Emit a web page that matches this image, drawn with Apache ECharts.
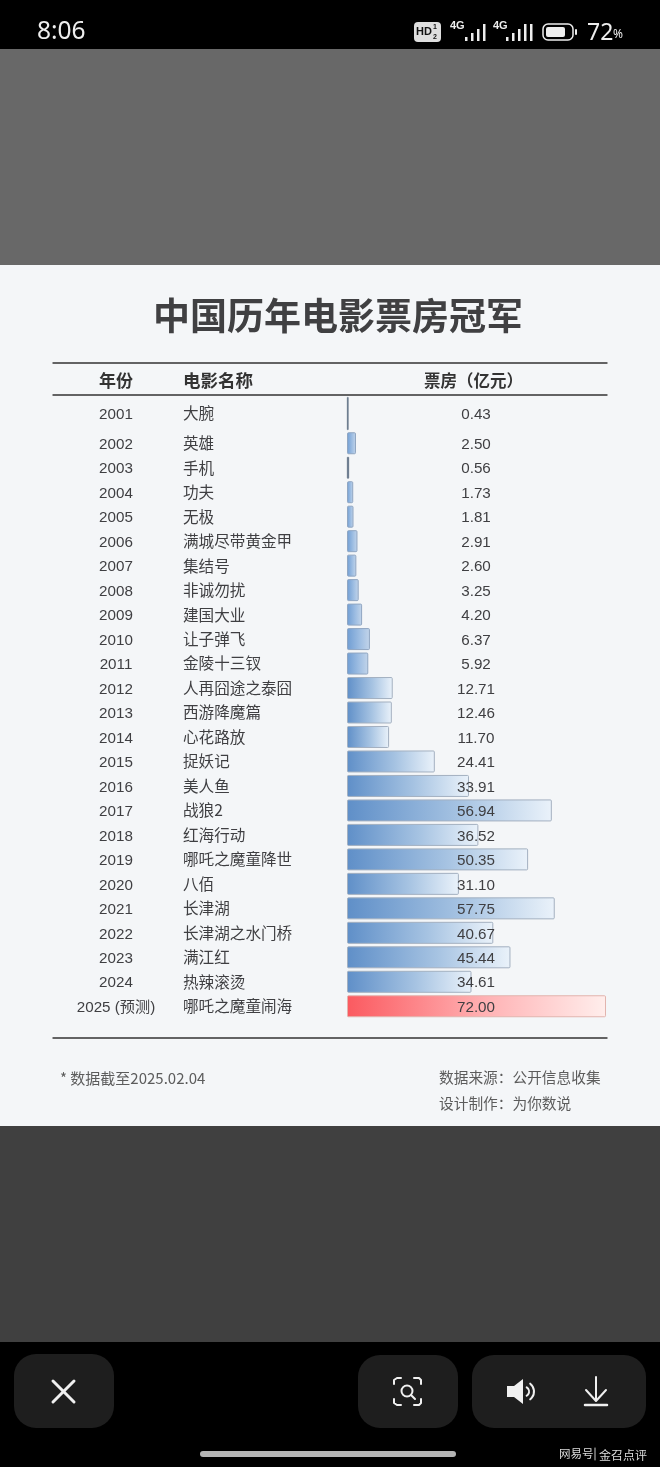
<!DOCTYPE html>
<html><head><meta charset="utf-8">
<style>html,body{margin:0;padding:0;background:#000}#c{width:660px;height:1467px}</style>
<script src="https://cdn.jsdelivr.net/npm/echarts@6/dist/echarts.min.js"></script>
</head><body><div id="c"></div>
<script>
var titleText = '中国历年电影票房冠军';
var headers = ['年份', '电影名称', '票房（亿元）'];
var years = ['2001','2002','2003','2004','2005','2006','2007','2008','2009','2010','2011','2012','2013','2014','2015','2016','2017','2018','2019','2020','2021','2022','2023','2024','2025 (预测)'];
var movies = ['大腕','英雄','手机','功夫','无极','满城尽带黄金甲','集结号','非诚勿扰','建国大业','让子弹飞','金陵十三钗','人再囧途之泰囧','西游降魔篇','心花路放','捉妖记','美人鱼','战狼2','红海行动','哪吒之魔童降世','八佰','长津湖','长津湖之水门桥','满江红','热辣滚烫','哪吒之魔童闹海'];
var boxOffice = [0.43,2.50,0.56,1.73,1.81,2.91,2.60,3.25,4.20,6.37,5.92,12.71,12.46,11.70,24.41,33.91,56.94,36.52,50.35,31.10,57.75,40.67,45.44,34.61,72.00];
var noteLeft = '* 数据截至2025.02.04';
var noteRight = ['数据来源：公开信息收集', '设计制作：为你数说'];

var LAT = '"Liberation Sans", Arial, "Noto Sans CJK SC", sans-serif';
var CJK = '"Noto Sans CJK SC", sans-serif';
var INK = '#3f3f42';

function grad(a, b, c) {
  return new echarts.graphic.LinearGradient(0, 0, 1, 0, [
    {offset: 0, color: a}, {offset: 0.55, color: b}, {offset: 1, color: c}
  ]);
}
function barItem(v, i) {
  var last = i === years.length - 1;
  var fill, edge = '#a3b0c0', w = 1;
  if (last) { fill = grad('#fb5a60', '#ffb4b6', '#ffeeec'); edge = '#e2b4ae'; }
  else if (v < 1) { fill = '#5a6c80'; edge = '#5a6c80'; w = 0.4; }
  else if (v < 10) { fill = grad('#6f9dd3', '#9dbde2', '#c3d5ea'); edge = '#90a6c2'; }
  else fill = grad('#5f8fc8', '#a6c3e2', '#eaf2fa');
  return { value: v, itemStyle: { color: fill, borderColor: edge, borderWidth: w, borderRadius: 1 } };
}
var allBars = boxOffice.map(barItem);

function yAxesFor(g, from, to) {
  var ys = years.slice(from, to), ms = movies.slice(from, to), vs = boxOffice.slice(from, to).map(function (v) { return v.toFixed(2); });
  function base(data, pos, extra) {
    return {
      type: 'category', gridIndex: g, inverse: true, position: pos, data: data, z: 20,
      axisLine: {show: false}, axisTick: {show: false}, splitLine: {show: false},
      axisLabel: Object.assign({interval: 0, color: INK, fontSize: 15.2, fontFamily: LAT, hideOverlap: false, verticalAlign: 'top', lineHeight: 3}, extra)
    };
  }
  return [
    base(ys, 'left', {align: 'center', margin: 231}),
    base(ms, 'left', {align: 'left', margin: 164, fontSize: 15.6, fontFamily: CJK, verticalAlign: 'middle', lineHeight: 18}),
    base(vs, 'right', {align: 'center', margin: -130})
  ];
}

/* ----- surrounding screen furniture ----- */
function rect(x, y, w, h, fill, r, z) { return {type: 'rect', z: z === undefined ? -5 : z, silent: true, shape: {x: x, y: y, width: w, height: h, r: r || 0}, style: {fill: fill}}; }
function txt(x, y, s, size, color, o) {
  o = o || {};
  return {type: 'text', z: 5, silent: true, x: x, y: y, style: {text: s, fill: color, font: (o.w || 'normal') + ' ' + size + 'px ' + (o.f || CJK), textAlign: o.a || 'left', textVerticalAlign: 'middle'}};
}
function ln(x1, y1, x2, y2, c, w) { return {type: 'line', z: 5, silent: true, shape: {x1: x1, y1: y1, x2: x2, y2: y2}, style: {stroke: c, lineWidth: w, lineCap: 'round'}}; }
function pl(pts, c, w) { return {type: 'polyline', z: 5, silent: true, shape: {points: pts}, style: {stroke: c, lineWidth: w, fill: 'none', lineCap: 'round', lineJoin: 'round'}}; }
function arc(cx, cy, r, a, b, c, w) { return {type: 'arc', z: 5, silent: true, shape: {cx: cx, cy: cy, r: r, startAngle: a, endAngle: b}, style: {stroke: c, lineWidth: w, fill: 'none', lineCap: 'round'}}; }

var W = '#f0f0f0';
var gfx = [
  rect(0, 0, 660, 1467, '#000'),
  {type: 'rect', z: -4, silent: true, shape: {x: 0, y: 49, width: 660, height: 216}, style: {fill: '#686868'}},
  {type: 'rect', z: -4, silent: true, shape: {x: 0, y: 1126, width: 660, height: 216}, style: {fill: '#404040'}},
  rect(0, 265, 660, 861, '#f4f6f8', 0, -3),
  // table rules
  ln(53, 363, 607, 363, '#333', 1.4), ln(53, 395, 607, 395, '#333', 1.4), ln(53, 1038, 607, 1038, '#333', 1.4),
  // table headers
  txt(116, 381, headers[0], 17, '#333', {w: 'bold', a: 'center'}),
  txt(183, 380.5, headers[1], 17.5, '#333', {w: 'bold'}),
  txt(424, 381, headers[2], 16.5, '#333', {w: 'bold'}),
  // footer
  txt(60, 1078, noteLeft, 15, '#5c5c5c'),
  txt(439, 1077, noteRight[0], 14.7, '#5c5c5c'),
  txt(439, 1103, noteRight[1], 14.7, '#5c5c5c'),
  // status bar
  txt(37, 32, '8:06', 24.5, '#eeeeee', {f: '"Noto Sans", sans-serif'}),
  rect(414, 22, 27, 20, '#dedede', 4, 5),
  txt(416, 32, 'HD', 11, '#111', {w: 'bold', f: LAT}),
  txt(433, 27, '1', 7, '#111', {w: 'bold', f: LAT}),
  txt(433, 37, '2', 7, '#111', {w: 'bold', f: LAT}),
  txt(450, 26, '4G', 11, '#eee', {w: 'bold', f: LAT}),
  txt(493, 26, '4G', 11, '#eee', {w: 'bold', f: LAT}),
  rect(465, 37, 2.5, 4, '#eee', 0, 5), rect(471, 33, 2.5, 8, '#eee', 0, 5), rect(477, 29, 2.5, 12, '#eee', 0, 5), rect(483, 24, 2.5, 17, '#eee', 0, 5),
  rect(506, 37, 2.5, 4, '#eee', 0, 5), rect(512, 33, 2.5, 8, '#eee', 0, 5), rect(518, 29, 2.5, 12, '#eee', 0, 5), rect(524, 24, 2.5, 17, '#eee', 0, 5), rect(530, 24, 2.5, 17, '#eee', 0, 5),
  {type: 'rect', z: 5, silent: true, shape: {x: 543, y: 24, width: 30, height: 16, r: 5}, style: {fill: 'none', stroke: '#eee', lineWidth: 1.5}},
  rect(546, 27, 19, 10, '#eee', 2, 5),
  rect(575, 29, 2, 6, '#eee', 1, 5),
  txt(587, 33, '72', 23, '#eeeeee', {f: '"Noto Sans", sans-serif'}),
  txt(613, 35, '%', 12, '#eeeeee', {f: '"Noto Sans", sans-serif'}),
  // bottom bar
  rect(14, 1354, 100, 74, '#1e1e1e', 22, 1),
  rect(358, 1355, 100, 73, '#1e1e1e', 22, 1),
  rect(472, 1355, 174, 73, '#1e1e1e', 22, 1),
  ln(53, 1381, 74, 1402, W, 3), ln(74, 1381, 53, 1402, W, 3),
  pl([[394,1384],[394,1380],[397,1378],[401,1378]], W, 2),
  pl([[414,1378],[419,1378],[421,1380],[421,1384]], W, 2),
  pl([[421,1399],[421,1403],[419,1405],[414,1405]], W, 2),
  pl([[401,1405],[397,1405],[394,1403],[394,1399]], W, 2),
  {type: 'circle', z: 5, silent: true, shape: {cx: 407, cy: 1391, r: 5.5}, style: {fill: 'none', stroke: W, lineWidth: 2}},
  ln(411, 1395, 415, 1399, W, 2),
  {type: 'polygon', z: 5, silent: true, shape: {points: [[507,1386],[514,1386],[523,1379],[523,1404],[514,1397],[507,1397]]}, style: {fill: W}},
  arc(524, 1391.5, 5, -1, 1, W, 2),
  arc(524, 1391.5, 10, -0.9, 0.9, W, 2),
  ln(596, 1377, 596, 1400, W, 2), pl([[586,1390],[596,1401],[606,1390]], W, 2), ln(585, 1405, 607, 1405, W, 2.5),
  rect(200, 1451, 256, 6, '#b4b4b4', 3, 1),
  txt(559, 1454, '网易号', 11.5, '#dddddd'),
  ln(595, 1448, 595, 1460, '#cccccc', 1),
  txt(599, 1455, '金召点评', 12, '#dddddd')
];

var option = {
  animation: false,
  backgroundColor: 'transparent',
  title: {
    text: titleText, left: 333, top: 289, textAlign: 'center',
    textStyle: {fontFamily: CJK, fontWeight: 'bold', fontSize: 37, color: '#404042', lineHeight: 44}
  },
  grid: [
    {left: 347, width: 259, top: 396, height: 35, containLabel: false},
    {left: 347, width: 259, top: 431, height: 587.5, containLabel: false}
  ],
  xAxis: [
    {type: 'value', gridIndex: 0, min: 0, max: 72, show: false},
    {type: 'value', gridIndex: 1, min: 0, max: 72, show: false}
  ],
  yAxis: yAxesFor(0, 0, 1).concat(yAxesFor(1, 1, years.length)),
  graphic: {elements: gfx},
  series: [
    {type: 'bar', name: '票房', xAxisIndex: 0, yAxisIndex: 0, barWidth: 33, data: allBars.slice(0, 1), z: 3},
    {type: 'bar', name: '票房', xAxisIndex: 1, yAxisIndex: 3, barWidth: 22, data: allBars.slice(1), z: 3}
  ]
};
var chart = echarts.init(document.getElementById('c'), null, {renderer: 'canvas'});
chart.setOption(option);
</script></body></html>
